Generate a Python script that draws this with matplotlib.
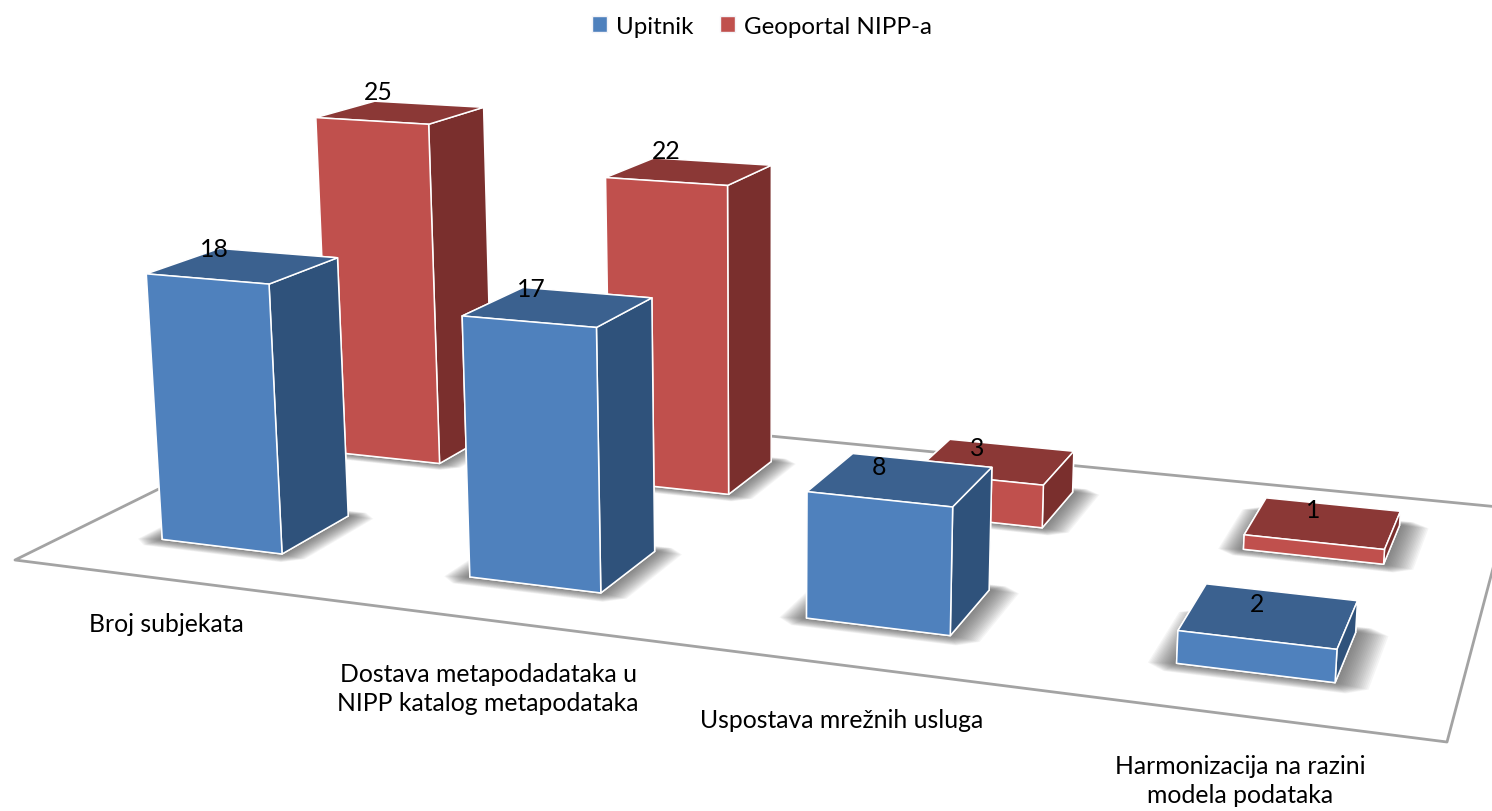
import numpy as np
import matplotlib
matplotlib.use("Agg")
import matplotlib.pyplot as plt
from matplotlib.patches import Patch
from mpl_toolkits.mplot3d.art3d import Poly3DCollection

categories = ["Broj subjekata", "Dostava metapodadataka u\nNIPP katalog metapodataka",
              "Uspostava mrežnih usluga", "Harmonizacija na razini\nmodela podataka"]
series_names = ["Upitnik", "Geoportal NIPP-a"]
upitnik = [18, 17, 8, 2]
geoportal = [25, 22, 3, 1]

W, H = 1492, 812
plt.rcParams["font.family"] = ["Lato", "DejaVu Sans"]
FS = 17.8

# camera calibration: (category, series, x side, y side, z side, px, py)
CALIB = [
 (0,0,0,0,1,147,275),(0,0,1,0,1,270,287),(0,0,1,1,1,339,259),(0,0,0,1,1,218,247),
 (0,0,0,0,0,162,541),(0,0,1,0,0,282,556),(0,0,1,1,0,349,517),
 (1,0,0,0,1,461,317),(1,0,1,0,1,597,329),(1,0,1,1,1,652,298),(1,0,0,1,1,520,288),
 (1,0,0,0,0,470,578),(1,0,1,0,0,600,594),(1,0,1,1,0,655,547),
 (2,0,0,0,1,807,493),(2,0,1,0,1,952,508),(2,0,1,1,1,993,468),(2,0,0,1,1,854,454),
 (2,0,0,0,0,806,619),(2,0,1,0,0,950,637),(2,0,1,1,0,989,592),
 (3,0,0,0,1,1178,632),(3,0,1,0,1,1336,650),(3,0,1,1,1,1357,602),(3,0,0,1,1,1208,585),
 (3,0,0,0,0,1177,664),(3,0,1,0,0,1336,684),
 (0,1,0,0,1,317,119),(0,1,1,0,1,429,126),(0,1,1,1,1,485,108),(0,1,0,1,1,372,103),
 (0,1,1,0,0,439,466),
 (1,1,0,0,1,606,178),(1,1,1,0,1,727,186),(1,1,1,1,1,772,166),
 (1,1,1,0,0,729,496),(1,1,1,1,0,772,461),
 (2,1,1,0,1,1043,486),(2,1,1,1,1,1073,453),(2,1,0,1,1,950,441),
 (2,1,1,0,0,1042,528),(2,1,1,1,0,1073,493),
 (3,1,0,0,1,1243,537),(3,1,1,0,1,1384,551),(3,1,1,1,1,1400,512),(3,1,0,1,1,1267,499),
 (3,1,0,0,0,1243,551),(3,1,1,0,0,1384,565),
]
values = [upitnik, geoportal]


def dlt(bw, sp):
    A, wpts, uv = [], [], []
    for i, j, a, b, c, u, v in CALIB:
        X = i + a * bw
        Y = j * sp + b
        Z = c * values[j][i]
        A.append([X, Y, Z, 1, 0, 0, 0, 0, -u*X, -u*Y, -u*Z, -u])
        A.append([0, 0, 0, 0, X, Y, Z, 1, -v*X, -v*Y, -v*Z, -v])
        wpts.append([X, Y, Z, 1]); uv.append([u, v])
    _, _, vt = np.linalg.svd(np.array(A, float))
    P = vt[-1].reshape(3, 4)
    wpts = np.array(wpts); uv = np.array(uv)
    q = wpts @ P.T
    if np.median(q[:, 2]) < 0:
        P = -P; q = -q
    err = np.sum((q[:, :2] / q[:, 2:] - uv) ** 2)
    return P, err


best = min(((dlt(bw, sp)[1], bw, sp) for bw in np.arange(0.33, 0.47, 0.01)
            for sp in np.arange(1.8, 3.6, 0.05)))
BW, SP = best[1], best[2]
P, _ = dlt(BW, SP)


def project(x, y, z):
    q = P @ np.array([x, y, z, 1.0])
    return q[0] / q[2], q[1] / q[2]


def floor_point(u, v):
    Hm = P[:, [0, 1, 3]]
    q = np.linalg.solve(Hm, [u, v, 1.0])
    return q[0] / q[2], q[1] / q[2], 0.0


fig = plt.figure(figsize=(W / 100, H / 100), dpi=100, facecolor="white")
ax = fig.add_axes([0, (H - W) / 2 / H, 1, W / H], projection="3d", computed_zorder=False)
ax.set_axis_off()
ax.patch.set_alpha(0)


def get_proj():
    (x0, y0), (x1, y1) = ax.viewLim.get_points()
    bottom = (H + W) / 2
    A = np.array([[(x1 - x0) / W, 0, x0],
                  [0, -(y1 - y0) / W, y0 + bottom * (y1 - y0) / W],
                  [0, 0, 1.0]])
    Q = A @ P
    return np.array([Q[0], Q[1], [0, 0, 0, -1.0], Q[2]])


ax.get_proj = get_proj

# floor
corners = [floor_point(*c) for c in [(15, 561), (1447, 743), (1509, 509), (349, 396)]]
ax.add_collection3d(Poly3DCollection([corners], facecolor="white", edgecolor="#A3A3A3",
                                     linewidth=2.0, zorder=1))

# soft shadows with cut corners
for j in (1, 0):
    for i in range(4):
        x0, y0 = i, j * SP
        for k, e in enumerate(np.linspace(1.0, 0.1, 18)):
            L, R = x0 - e * 0.07, x0 + BW + e * 0.085
            F, B = y0 - e * 0.17, y0 + 1 + e * 0.12
            cx, cy = e * 0.05, e * 0.12
            q = [(L + cx, F, 0), (R - cx, F, 0), (R, F + cy, 0), (R, B - cy, 0),
                 (R - cx, B, 0), (L + cx, B, 0), (L, B - cy, 0), (L, F + cy, 0)]
            ax.add_collection3d(Poly3DCollection([q], facecolor=(0.28, 0.28, 0.28, 0.05),
                                                 edgecolor="none", zorder=2 + k * 0.01))

# bars: -Z, +Z, -Y, +Y, -X, +X
faces = [["#4F81BD", "#3B618F", "#4F81BD", "#2F527B", "#2F527B", "#2F527B"],
         ["#C0504D", "#8B3836", "#C0504D", "#7A2F2D", "#7A2F2D", "#7A2F2D"]]
z = 5
for j in (1, 0):
    for i in range(4):
        ax.bar3d(i, j * SP, 0, BW, 1, values[j][i], color=faces[j], shade=False,
                 edgecolor="white", linewidth=1.1, zorder=z)
        z += 1

# value labels, offset from the centre of each bar top
off_x = [[-29, -27, -22, -12], [-23, -23, -18, -10], ]
off_y = [[-17, -18, -13, -12], [-21, -21, -14, -13]]
for j in (0, 1):
    for i in range(4):
        u, v = project(i + BW / 2, j * SP + 0.5, values[j][i])
        fig.text((u + off_x[j][i]) / W, 1 - (v + off_y[j][i]) / H, str(values[j][i]),
                 ha="center", va="center", fontsize=FS, color="black", zorder=50)

# category labels
label_pos = [(166, 625), (488, 689), (842, 721), (1240, 781)]
for c, (u, v) in zip(categories, label_pos):
    fig.text(u / W, 1 - v / H, c, ha="center", va="center", fontsize=FS, color="black",
             linespacing=1.27, zorder=50)

# legend
fig.legend(handles=[Patch(facecolor="#4F81BD", edgecolor="#F4F4F8"),
                    Patch(facecolor="#C0504D", edgecolor="#F4F4F8")],
           labels=series_names, ncols=2, loc="center", bbox_to_anchor=(762 / W, 1 - 27 / H),
           frameon=False, fontsize=17.4, handlelength=0.6, handleheight=0.6,
           handletextpad=0.38, columnspacing=1.1, borderpad=0, labelcolor="black")

fig.savefig("out.png", dpi=100, facecolor="white")
